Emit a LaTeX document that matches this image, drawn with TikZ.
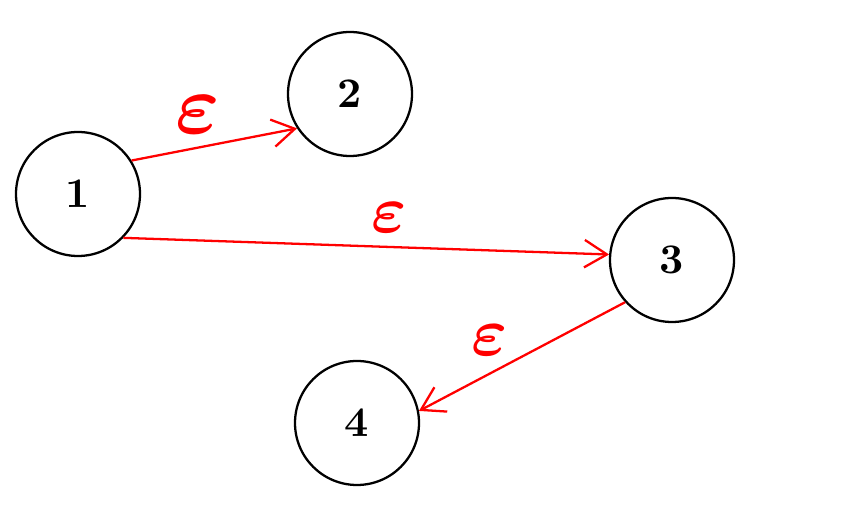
\documentclass[tikz,border=0pt]{standalone}
\usepackage{amsmath}
\usepackage{graphicx}
\usepackage{tikz}
\usetikzlibrary{automata, positioning, arrows.meta}

\newcommand{\statenum}[1]{\scalebox{2.4}{\bfseries #1}}

\begin{document}
\begin{tikzpicture}[->, >={Straight Barb[length=4.5mm, width=5.5mm]}, line width=1.3pt,
    every state/.style={draw, circle, line width=1.3pt, minimum size=2.48cm,
      inner sep=0pt},
    eps/.style={red, inner sep=0pt}]

  \useasboundingbox (0,0) rectangle (17.02,10.48);

  \node[state] (n1) at (1.56,6.60) {\statenum{1}};
  \node[state] (n2) at (7.00,8.60) {\statenum{2}};
  \node[state] (n3) at (13.44,5.28) {\statenum{3}};
  \node[state] (n4) at (7.14,2.02) {\statenum{4}};

  % epsilon moves
  \path[red] (n1.32)  edge (n2.213)
             (n1.-44) edge (n3.175)
             (n3.222) edge (n4.11);

  \node[eps] (e12) at (3.96,8.18) {\scalebox{4.8}{$\boldsymbol{\varepsilon}$}};
  \node[eps] (e13) at (7.78,6.12) {\scalebox{3.8}{$\boldsymbol{\varepsilon}$}};
  \node[eps] (e34) at (9.80,3.68) {\scalebox{3.9}{$\boldsymbol{\varepsilon}$}};

\end{tikzpicture}
\end{document}
